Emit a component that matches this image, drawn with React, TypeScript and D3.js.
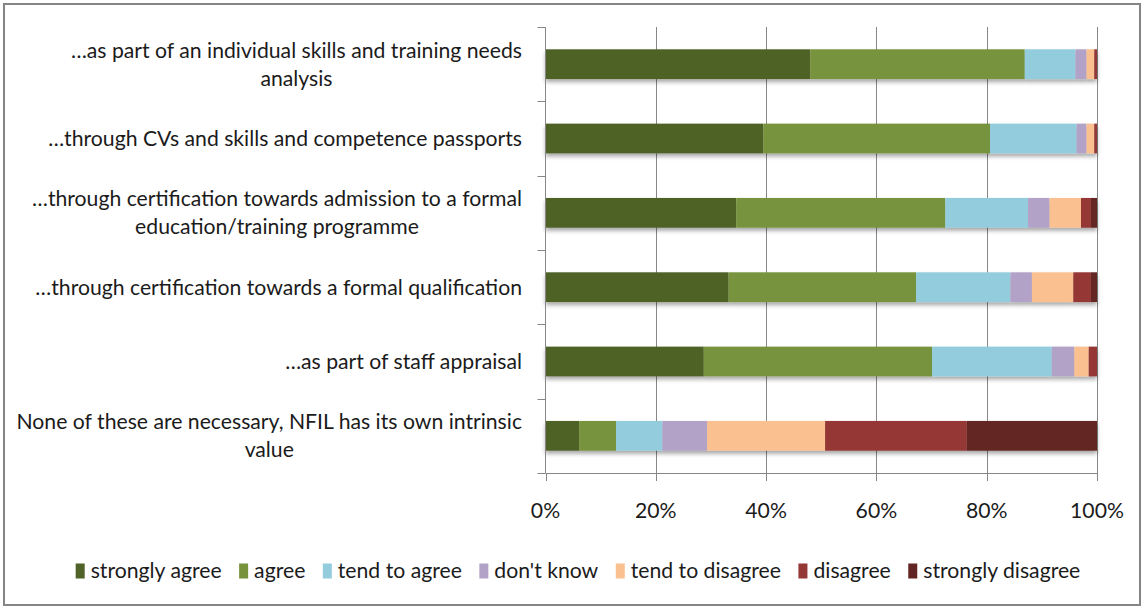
import React, { useEffect, useRef } from 'react';
import * as d3 from 'd3';

// ---------- data ----------
const categories = [
  '…as part of an individual skills and training needs\nanalysis',
  '…through CVs and skills and competence passports',
  '…through certification towards admission to a formal\neducation/training programme',
  '…through certification towards a formal qualification',
  '…as part of staff appraisal',
  'None of these are necessary, NFIL has its own intrinsic\nvalue',
];

const seriesNames = [
  'strongly agree',
  'agree',
  'tend to agree',
  "don't know",
  'tend to disagree',
  'disagree',
  'strongly disagree',
];

const seriesColors = ['#4F6228', '#77933C', '#93CDDD', '#B3A2C7', '#FAC090', '#953735', '#632523'];

const stronglyAgree = [48.0, 39.5, 34.6, 33.2, 28.7, 6.1];
const agree = [38.9, 41.1, 37.9, 34.0, 41.4, 6.7];
const tendToAgree = [9.2, 15.7, 15.0, 17.1, 21.7, 8.4];
const dontKnow = [2.0, 1.8, 3.9, 3.9, 4.1, 8.1];
const tendToDisagree = [1.4, 1.4, 5.7, 7.5, 2.6, 21.4];
const disagree = [0.5, 0.5, 1.8, 3.2, 1.5, 25.7];
const stronglyDisagree = [0.0, 0.0, 1.1, 1.1, 0.0, 23.6];

const tickValues = [0, 0.2, 0.4, 0.6, 0.8, 1.0];

// ---------- layout ----------
const W = 1144;
const H = 608;
const FONT = 'Lato, "Open Sans", sans-serif';
const FS = 21.2;
const PLOT = { left: 545.5, right: 1097, top: 27, bottom: 473 };
const LABEL_RIGHT = 522;
const TEXT_COLOR = '#1b1b1b';
const AXIS_COLOR = '#878787';

export default function App() {
  const ref = useRef<SVGSVGElement | null>(null);

  useEffect(() => {
    const svg = d3.select(ref.current);
    svg.selectAll('*').remove();

    const allSeries = [stronglyAgree, agree, tendToAgree, dontKnow, tendToDisagree, disagree, stronglyDisagree];
    const rows = categories.map((c, i) => {
      const r: any = { category: c };
      seriesNames.forEach((s, j) => (r[s] = allSeries[j][i]));
      return r;
    });

    const stack = d3.stack<any>().keys(seriesNames).offset(d3.stackOffsetExpand);
    const stacked = stack(rows);

    const x = d3.scaleLinear().domain([0, 1]).range([PLOT.left, PLOT.right]);
    const y = d3
      .scaleBand<string>()
      .domain(categories)
      .range([PLOT.top, PLOT.bottom])
      .paddingInner(0.6)
      .paddingOuter(0.3);
    const step = y.step();

    const defs = svg.append('defs');
    const filt = defs
      .append('filter')
      .attr('id', 'shadow')
      .attr('x', '-5%')
      .attr('y', '-30%')
      .attr('width', '110%')
      .attr('height', '170%');
    filt
      .append('feDropShadow')
      .attr('dx', 0)
      .attr('dy', 3)
      .attr('stdDeviation', 2)
      .attr('flood-color', '#000')
      .attr('flood-opacity', 0.35);

    // background + border
    svg.append('rect').attr('x', 0).attr('y', 0).attr('width', W).attr('height', H).attr('fill', '#fff');
    svg
      .append('rect')
      .attr('x', 4)
      .attr('y', 4)
      .attr('width', 1136)
      .attr('height', 601)
      .attr('fill', '#fff')
      .attr('stroke', '#858585')
      .attr('stroke-width', 2);

    // gridlines
    svg
      .append('g')
      .selectAll('line')
      .data(tickValues.slice(1))
      .join('line')
      .attr('x1', (d) => Math.round(x(d)) + 0.5)
      .attr('x2', (d) => Math.round(x(d)) + 0.5)
      .attr('y1', PLOT.top)
      .attr('y2', PLOT.bottom)
      .attr('stroke', AXIS_COLOR)
      .attr('stroke-width', 1);

    // bars
    const rowG = svg
      .append('g')
      .selectAll('g')
      .data(categories)
      .join('g')
      .attr('filter', 'url(#shadow)');
    rowG.each(function (cat, i) {
      const g = d3.select(this);
      stacked.forEach((layer, j) => {
        const seg = layer[i];
        const w = x(seg[1]) - x(seg[0]);
        if (w <= 0) return;
        g.append('rect')
          .attr('x', x(seg[0]))
          .attr('y', y(cat)!)
          .attr('width', w)
          .attr('height', y.bandwidth())
          .attr('fill', seriesColors[j]);
      });
    });

    // vertical (category) axis
    const ax = svg.append('g').attr('stroke', AXIS_COLOR).attr('stroke-width', 1);
    ax.append('line')
      .attr('x1', PLOT.left)
      .attr('x2', PLOT.left)
      .attr('y1', PLOT.top)
      .attr('y2', PLOT.bottom);
    const boundaries = d3.range(categories.length + 1).map((k) => PLOT.top + k * step);
    ax.selectAll('line.ct')
      .data(boundaries)
      .join('line')
      .attr('class', 'ct')
      .attr('x1', PLOT.left - 8)
      .attr('x2', PLOT.left)
      .attr('y1', (d) => Math.round(d) + 0.5)
      .attr('y2', (d) => Math.round(d) + 0.5);

    // horizontal (value) axis
    ax.append('line')
      .attr('x1', PLOT.left)
      .attr('x2', PLOT.right)
      .attr('y1', PLOT.bottom + 0.5)
      .attr('y2', PLOT.bottom + 0.5);
    ax.selectAll('line.vt')
      .data(tickValues)
      .join('line')
      .attr('class', 'vt')
      .attr('x1', (d) => Math.round(x(d)) + 0.5)
      .attr('x2', (d) => Math.round(x(d)) + 0.5)
      .attr('y1', PLOT.bottom)
      .attr('y2', PLOT.bottom + 8);

    const fmt = d3.format('.0%');
    svg
      .append('g')
      .selectAll('text')
      .data(tickValues)
      .join('text')
      .attr('x', (d) => x(d))
      .attr('y', 511)
      .attr('dy', '0.35em')
      .attr('text-anchor', 'middle')
      .attr('font-family', FONT)
      .attr('font-size', FS)
      .attr('fill', TEXT_COLOR)
      .text((d) => fmt(d));

    // category labels
    const lab = svg.append('g').attr('font-family', FONT).attr('font-size', FS).attr('fill', TEXT_COLOR);
    const lineH = 28;
    categories.forEach((cat) => {
      const lines = cat.split('\n');
      const cy = y(cat)! + y.bandwidth() / 2;
      const t = lab.append('text').attr('text-anchor', 'middle');
      const tspans = lines.map((ln, k) =>
        t
          .append('tspan')
          .attr('y', cy + (k - (lines.length - 1) / 2) * lineH)
          .attr('dy', '0.35em')
          .text(ln)
      );
      const widths = tspans.map((ts) => (ts.node() as SVGTextContentElement).getComputedTextLength());
      const maxW = d3.max(widths) || 0;
      const cx = LABEL_RIGHT - maxW / 2;
      tspans.forEach((ts) => ts.attr('x', cx));
    });

    // legend
    const leg = svg.append('g').attr('font-family', FONT).attr('font-size', FS).attr('fill', TEXT_COLOR);
    const legY = 571;
    const mW = 9;
    const mH = 15;
    const gapIn = 6;
    const gapOut = 17.5;
    const items = seriesNames.map((name, j) => {
      const g = leg.append('g');
      g.append('rect')
        .attr('x', 0)
        .attr('y', legY - mH / 2)
        .attr('width', mW)
        .attr('height', mH)
        .attr('fill', seriesColors[j]);
      const t = g
        .append('text')
        .attr('x', mW + gapIn)
        .attr('y', legY)
        .attr('dy', '0.35em')
        .text(name);
      const tw = (t.node() as SVGTextContentElement).getComputedTextLength();
      return { g, w: mW + gapIn + tw };
    });
    const total = d3.sum(items, (d) => d.w) + gapOut * (items.length - 1);
    let cx = 578 - total / 2;
    items.forEach((it) => {
      it.g.attr('transform', `translate(${cx},0)`);
      cx += it.w + gapOut;
    });
  }, []);

  return (
    <svg
      ref={ref}
      width={W}
      height={H}
      style={{ position: 'absolute', left: 0, top: 0, display: 'block' }}
    />
  );
}
